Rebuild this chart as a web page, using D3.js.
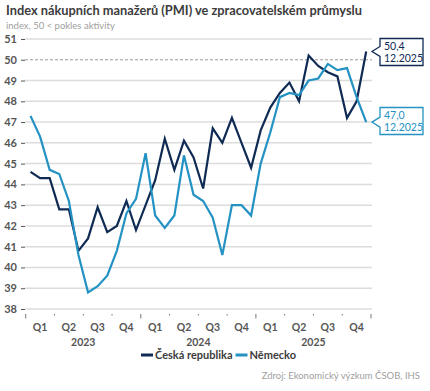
<!DOCTYPE html>
<html>
<head>
<meta charset="utf-8">
<script src="https://cdn.jsdelivr.net/npm/d3@7"></script>
<style>
  html, body { margin: 0; padding: 0; background: #fff; }
  svg { display: block; font-family: Lato, "Open Sans", sans-serif; }
</style>
</head>
<body>
<svg id="chart" width="430" height="391"></svg>
<script>
// ---------------------------------------------------------------------------
// Data (monthly PMI, 1.2023 – 12.2025)
// ---------------------------------------------------------------------------
const years = ['2023', '2024', '2025'];
const quarters = ['Q1', 'Q2', 'Q3', 'Q4'];
const yTicks = [38, 39, 40, 41, 42, 43, 44, 45, 46, 47, 48, 49, 50, 51];

const czech = [
  44.6, 44.3, 44.3, 42.8, 42.8, 40.8, 41.4, 42.9, 41.7, 42.0, 43.2, 41.8,
  43.0, 44.2, 46.2, 44.7, 46.1, 45.3, 43.8, 46.7, 46.0, 47.2, 46.0, 44.8,
  46.6, 47.7, 48.4, 48.9, 48.0, 50.2, 49.7, 49.4, 49.2, 47.2, 48.0, 50.4
];
const germany = [
  47.3, 46.3, 44.7, 44.5, 43.2, 40.6, 38.8, 39.1, 39.6, 40.8, 42.6, 43.3,
  45.5, 42.5, 41.9, 42.5, 45.4, 43.5, 43.2, 42.4, 40.6, 43.0, 43.0, 42.5,
  45.0, 46.5, 48.2, 48.4, 48.3, 49.0, 49.1, 49.8, 49.5, 49.6, 48.2, 47.0
];
const seriesNames = ['Česká republika', 'Německo'];
const lastLabels = ['50,4', '47,0'];
const lastDate = '12.2025';

const COLORS = ['#0f2b54', '#2492c2'];

// ---------------------------------------------------------------------------
// Layout
// ---------------------------------------------------------------------------
const svg = d3.select('#chart');
const months = d3.range(czech.length);

const x = d3.scaleBand().domain(months).range([25.7, 371]);
const y = d3.scaleLinear().domain([38, 51]).range([309, 39]);
const mx = i => x(i) + x.bandwidth() / 2;

// Title
svg.append('text')
  .attr('x', 6).attr('y', 15)
  .attr('font-size', 12.8).attr('font-weight', 700)
  .attr('fill', '#3c3c3c')
  .text('Index nákupních manažerů (PMI) ve zpracovatelském průmyslu');

svg.append('text')
  .attr('x', 6).attr('y', 28.5)
  .attr('font-size', 9.5).attr('fill', '#a0a0a0')
  .text('index, 50 < pokles aktivity');

// Gridlines
svg.append('g')
  .selectAll('line')
  .data(yTicks)
  .join('line')
  .attr('x1', 25).attr('x2', 372)
  .attr('y1', d => y(d)).attr('y2', d => y(d))
  .attr('stroke', d => d === 50 ? '#9a9a9a' : '#dcdcdc')
  .attr('stroke-width', d => d === 50 ? 1 : 1.5)
  .attr('stroke-dasharray', d => d === 50 ? '3,2' : null);

// Y axis
const yAxis = svg.append('g')
  .attr('transform', 'translate(25,0)')
  .call(d3.axisLeft(y).tickValues(yTicks).tickSize(4).tickPadding(4).tickFormat(d3.format('d')));
yAxis.select('.domain').remove();
yAxis.selectAll('.tick line').attr('stroke', '#555');
yAxis.selectAll('text')
  .attr('font-size', 11).attr('font-weight', 700)
  .attr('fill', '#555').attr('font-family', 'Lato, sans-serif');

// X axis: quarter ticks and labels
const qScale = d3.scaleBand().domain(d3.range(years.length * 4)).range(x.range());
const xg = svg.append('g');
xg.selectAll('line')
  .data(d3.range(years.length * 4 + 1))
  .join('line')
  .attr('x1', d => x.range()[0] + d * qScale.bandwidth())
  .attr('x2', d => x.range()[0] + d * qScale.bandwidth())
  .attr('y1', 314)
  .attr('y2', d => d % 4 === 0 ? 318.5 : 315.5)
  .attr('stroke', '#777').attr('stroke-width', 1);

xg.selectAll('text.q')
  .data(qScale.domain())
  .join('text')
  .attr('class', 'q')
  .attr('x', d => qScale(d) + qScale.bandwidth() / 2)
  .attr('y', 330.5)
  .attr('text-anchor', 'middle')
  .attr('font-size', 10.5).attr('font-weight', 700).attr('fill', '#555')
  .text(d => quarters[d % 4]);

xg.selectAll('text.yr')
  .data(years)
  .join('text')
  .attr('class', 'yr')
  .attr('x', (d, i) => qScale(i * 4) + qScale.bandwidth() * 2)
  .attr('y', 345.5)
  .attr('text-anchor', 'middle')
  .attr('font-size', 10.5).attr('font-weight', 700).attr('fill', '#555')
  .text(d => d);

// Lines
const line = d3.line().x((d, i) => mx(i)).y(d => y(d));
[czech, germany].forEach((s, k) => {
  svg.append('path')
    .datum(s)
    .attr('fill', 'none')
    .attr('stroke', COLORS[k])
    .attr('stroke-width', 2.2)
    .attr('stroke-linejoin', 'miter')
    .attr('d', line);
});

// Last value callouts
[czech, germany].forEach((s, k) => {
  const last = s.length - 1;
  const px = 372, py = y(s[last]);
  const bx = 380, bw = 43, bh = 27;
  const top = k === 0 ? 38.5 : 107.5;
  const path = `M${bx},${top} H${bx + bw} V${top + bh} H${bx} V${py + 5} L${px},${py} L${bx},${py - 5} Z`;
  svg.append('path')
    .attr('d', path)
    .attr('fill', '#fff')
    .attr('stroke', COLORS[k])
    .attr('stroke-width', 1.3);
  svg.append('text')
    .attr('x', bx + 4).attr('y', top + 11)
    .attr('font-size', 10.5).attr('fill', COLORS[k])
    .text(lastLabels[k]);
  svg.append('text')
    .attr('x', bx + 4).attr('y', top + 23.5)
    .attr('font-size', 10.5).attr('fill', COLORS[k])
    .text(lastDate);
});

// Legend
const legend = svg.append('g').attr('transform', 'translate(141,355)');
let lx = 0;
seriesNames.forEach((name, k) => {
  legend.append('line')
    .attr('x1', lx).attr('x2', lx + 12)
    .attr('y1', 0).attr('y2', 0)
    .attr('stroke', COLORS[k]).attr('stroke-width', 3);
  const t = legend.append('text')
    .attr('x', lx + 14).attr('y', 3.8)
    .attr('font-size', 11).attr('font-weight', 700).attr('fill', '#3c3c3c')
    .text(name);
  lx += 14 + t.node().getComputedTextLength() + 3;
});

// Source
svg.append('text')
  .attr('x', 420).attr('y', 379)
  .attr('text-anchor', 'end')
  .attr('font-size', 9.5).attr('fill', '#a0a0a0')
  .text('Zdroj: Ekonomický výzkum ČSOB, IHS');
</script>
</body>
</html>
